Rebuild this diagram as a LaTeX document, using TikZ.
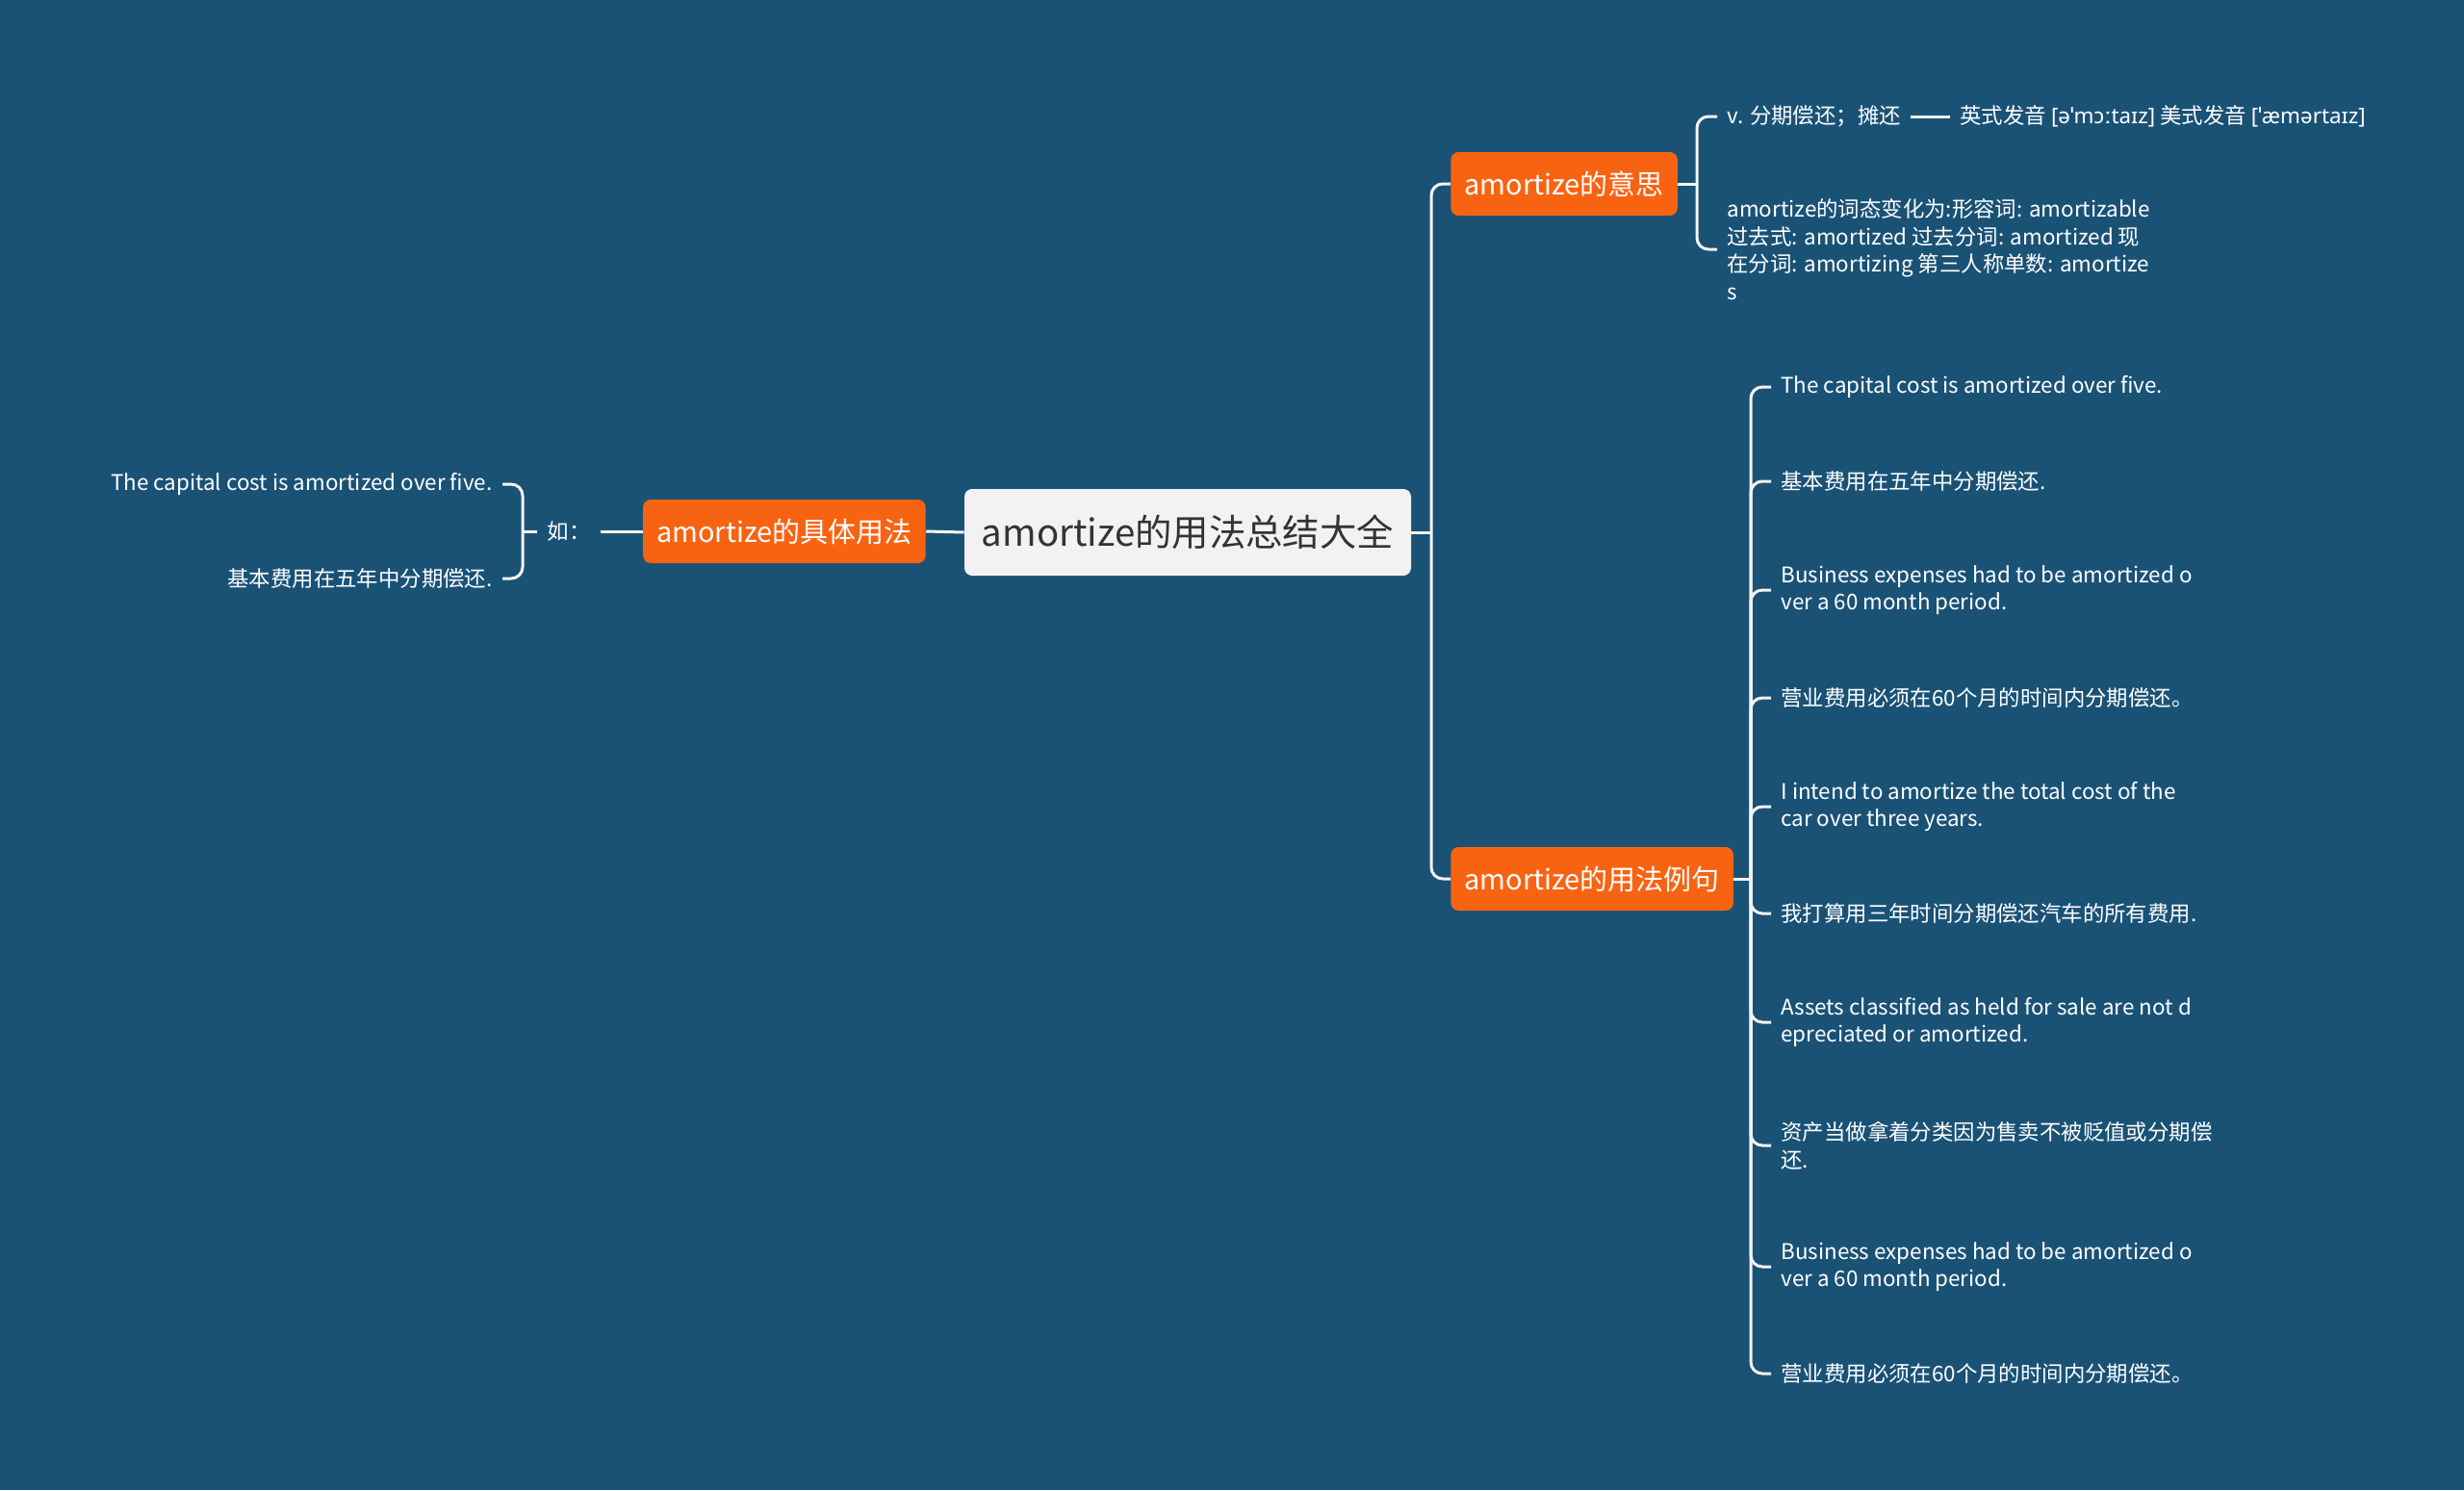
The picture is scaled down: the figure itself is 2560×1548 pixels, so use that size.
\documentclass[tikz,border=0pt]{standalone}
\usepackage{fontspec}
\setmainfont{Noto Sans CJK SC}
\newfontfamily\ipafont{Noto Sans}
\usetikzlibrary{positioning}
\definecolor{mapbg}{HTML}{1A5276}
\definecolor{maporange}{HTML}{F86312}
\definecolor{maproot}{HTML}{F2F2F2}
\definecolor{maptext}{HTML}{333333}
\definecolor{mapline}{HTML}{F4F4F4}

\begin{document}
\begin{tikzpicture}[x=0.5pt,y=-0.5pt,
        rootbox/.style={fill=maproot, text=maptext, rounded corners=4pt,
            font=\fontsize{19.2}{23}\selectfont, minimum width=232pt, minimum height=45pt, inner sep=0pt},
        branch/.style={fill=maporange, text=white, rounded corners=4pt,
            font=\fontsize{14.5}{17}\selectfont, minimum height=33pt, inner xsep=7pt},
        leaf/.style={text=white, font=\fontsize{11.2}{14.3}\selectfont, inner xsep=5pt, inner ysep=2pt},
        link/.style={draw=mapline, line width=1.5pt, rounded corners=6pt}
    ]

    % ============ background ============
    \fill[mapbg] (0,0) rectangle (2560,1548);
    \useasboundingbox (0,0) rectangle (2560,1548);

    % ============ root and branches ============
    \node[rootbox] (root) at (1234,553) {amortize的用法总结大全};
    \node[branch, anchor=east] (use) at (962,552) {amortize的具体用法};
    \node[branch, anchor=west] (mean) at (1507,191) {amortize的意思};
    \node[branch, anchor=west] (ex) at (1507,913) {amortize的用法例句};

    \coordinate (rj) at (1487,553);
    \draw[link] (root.east) -- (rj);
    \draw[link] (rj) |- (mean.west);
    \draw[link] (rj) |- (ex.west);
    \draw[link] (root.west) -- (use.east);

    % ============ left: 具体用法 ============
    \node[leaf, inner xsep=5pt] (ru) at (591,552) {如：};
    \draw[link] (use.west) -- (ru.east);
    \coordinate (lj) at (543,552);
    \draw[link] (ru.west) -- (lj);
    \node[leaf, anchor=east, align=right] (l1) at (522,503) {The capital cost is amortized over five.};
    \node[leaf, anchor=east, align=right] (l2) at (522,601) {基本费用在五年中分期偿还.};
    \draw[link] (lj) |- (l1.east);
    \draw[link] (lj) |- (l2.east);

    % ============ right: 意思 ============
    \coordinate (mj) at (1763,191);
    \draw[link] (mean.east) -- (mj);
    \node[leaf, anchor=west] (m1) at (1784,121) {v. 分期偿还；摊还};
    \node[leaf, anchor=west] (m1b) at (2026,121)
    {英式发音 {\ipafont [əˈmɔːtaɪz]} 美式发音 {\ipafont [ˈæmərtaɪz]}};
    \draw[link] (m1.east) -- (m1b.west);
    \node[leaf, anchor=west, align=left] (m2) at (1784,259)
    {amortize的词态变化为:形容词: amortizable\\过去式: amortized 过去分词: amortized 现\\在分词: amortizing 第三人称单数: amortize\\s};
    \draw[link] (mj) |- (m1.west);
    \draw[link] (mj) |- (m2.west);

    % ============ right: 例句 ============
    \coordinate (ej) at (1819,913);
    \draw[link] (ex.east) -- (ej);
    \foreach \y/\t [count=\i] in {
            402/{The capital cost is amortized over five.},
            500/{基本费用在五年中分期偿还.},
            613/{Business expenses had to be amortized o\\ver a 60 month period.},
            725/{营业费用必须在60个月的时间内分期偿还。},
            838/{I intend to amortize the total cost of the\\car over three years.},
            949/{我打算用三年时间分期偿还汽车的所有费用.},
            1062/{Assets classified as held for sale are not d\\epreciated or amortized.},
            1190/{资产当做拿着分类因为售卖不被贬值或分期偿\\还.},
            1316/{Business expenses had to be amortized o\\ver a 60 month period.},
            1427/{营业费用必须在60个月的时间内分期偿还。}} {
        \node[leaf, anchor=west, align=left] (ex\i) at (1840,\y) {\t};
        \draw[link] (ej) |- (ex\i.west);
    }
\end{tikzpicture}
\end{document}
